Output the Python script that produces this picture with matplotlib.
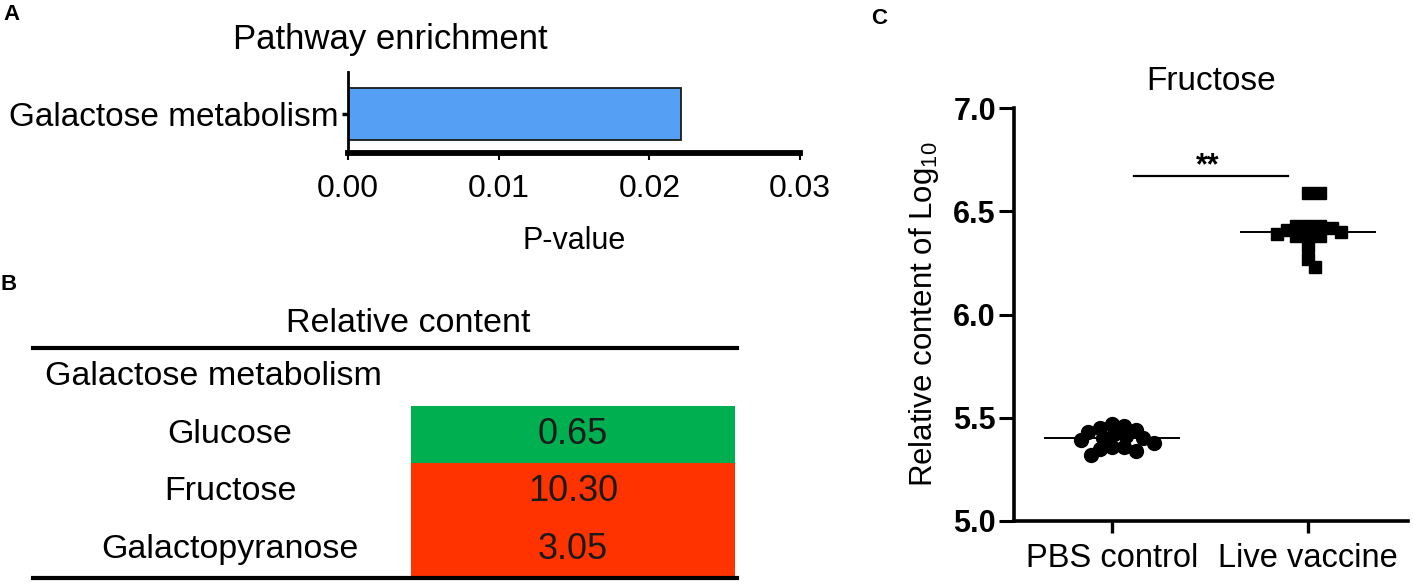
import numpy as np
import matplotlib.pyplot as plt

plt.rcParams['font.family'] = ['Liberation Sans', 'DejaVu Sans']
plt.rcParams['mathtext.fontset'] = 'custom'
plt.rcParams['mathtext.rm'] = 'Liberation Sans'

# ---- data ----
pathway_names = ["Galactose metabolism"]
pathway_pvals = [0.0221]
p_ticks = [0.00, 0.01, 0.02, 0.03]

table_group = "Galactose metabolism"
table_rows = ["Glucose", "Fructose", "Galactopyranose"]
table_vals = [0.65, 10.30, 3.05]

groups = ["PBS control", "Live vaccine"]
pbs_vals = [5.47, 5.46, 5.45, 5.44, 5.43, 5.42, 5.41, 5.40,
            5.40, 5.39, 5.38, 5.36, 5.36, 5.35, 5.34, 5.32]
vac_vals = [6.59, 6.59, 6.43, 6.43, 6.43, 6.42, 6.41, 6.40,
            6.39, 6.38, 6.38, 6.38, 6.33, 6.27, 6.23]
y_ticks = [5.0, 5.5, 6.0, 6.5, 7.0]
sig_label = "**"
sig_y = 6.67

W, H = 1413, 588
fig = plt.figure(figsize=(W / 100, H / 100), dpi=100)


def px_axes(left, top, right, bottom):
    return fig.add_axes([left / W, 1 - bottom / H, (right - left) / W, (bottom - top) / H])


# ---- panel A: pathway enrichment ----
axA = px_axes(348, 72, 800, 153)
axA.barh(range(len(pathway_names)), pathway_pvals, height=0.8,
         color="#55A0F5", edgecolor="#1a1a1a", linewidth=1.3)
axA.set_xlim(0, 0.03)
axA.set_ylim(-0.6, 0.65)
axA.set_xticks(p_ticks)
axA.set_xticklabels([f"{t:.2f}" for t in p_ticks])
axA.set_yticks(range(len(pathway_names)))
axA.set_yticklabels(pathway_names, fontsize=24)
for s in ["top", "right"]:
    axA.spines[s].set_visible(False)
axA.spines["bottom"].set_linewidth(4.2)
axA.spines["left"].set_linewidth(2)
axA.tick_params(axis="x", labelsize=23, length=5, width=1.5, pad=10)
axA.tick_params(axis="y", length=4, width=2.5, pad=3)
axA.set_xlabel("P-value", fontsize=22, labelpad=16)
axA.text(0.093, 1 + 32 / 81, "Pathway enrichment", transform=axA.transAxes,
         ha="center", va="center", fontsize=25)

# ---- panel B: relative content table ----
axB = px_axes(33, 348, 737, 578)
nrow = len(table_rows) + 1
axB.set_xlim(0, 1)
axB.set_ylim(nrow, 0)
cell_colors = ["#00B050" if v < 1 else "#FF3300" for v in table_vals]
rows_y = np.arange(1, nrow) + 0.5
axB.barh(rows_y, [0.46] * len(table_vals), left=0.537, height=1.0,
         color=cell_colors, linewidth=0)
for y, name, v in zip(rows_y, table_rows, table_vals):
    axB.text(0.28, y, name, ha="center", va="center", fontsize=24.5)
    axB.text(0.767, y, f"{v:.2f}", ha="center", va="center", fontsize=26,
             color="#1a1a1a")
axB.text(0.017, 0.5, table_group, ha="left", va="center", fontsize=24.5)
axB.text(0.533, -0.42, "Relative content", ha="center", va="center", fontsize=24.5)
axB.set_xticks([])
axB.set_yticks([])
for s in ["left", "right"]:
    axB.spines[s].set_visible(False)
axB.spines["top"].set_linewidth(3)
axB.spines["bottom"].set_linewidth(3)

# ---- panel C: fructose scatter ----
axC = px_axes(1014, 108, 1408, 521)
axC.set_xlim(-0.5, 1.51)
axC.set_ylim(5.0, 7.0)
xscale = 394 / 2.01
yscale = 413 / 2.0


def swarm(vals, mind=10.5, step=0.012):
    placed = []
    out = []
    for v in vals:
        k = 0
        while True:
            for c in ([0.0] if k == 0 else [k * step, -k * step]):
                if all(((c - px) * xscale) ** 2 + ((v - py) * yscale) ** 2 >= mind ** 2
                       for px, py in placed):
                    placed.append((c, v))
                    out.append(c)
                    break
            else:
                k += 1
                continue
            break
    return np.array(out)


for i, (vals, mk) in enumerate([(pbs_vals, "o"), (vac_vals, "s")]):
    vals = np.array(vals)
    xs = i + swarm(vals, mind=10.5 if mk == "o" else 10.0)
    axC.plot(xs, vals, linestyle="none", marker=mk, markersize=10 if mk == "o" else 9,
             color="black", zorder=3)
    med = np.median(vals)
    axC.plot([i - 0.34, i + 0.34], [med, med], color="black", linewidth=1.4, zorder=4)

axC.plot([0.11, 0.9], [sig_y, sig_y], color="black", linewidth=1.6)
axC.text(0.49, sig_y + 0.01, sig_label, ha="center", va="baseline", fontsize=22,
         fontweight="bold")

axC.set_xticks(range(len(groups)))
axC.set_xticklabels(groups, fontsize=23.5)
axC.set_yticks(y_ticks)
axC.set_yticklabels([f"{t:.1f}" for t in y_ticks], fontsize=22, fontweight="bold")
for s in ["top", "right"]:
    axC.spines[s].set_visible(False)
axC.spines["left"].set_linewidth(2.6)
axC.spines["bottom"].set_linewidth(2.6)
axC.tick_params(axis="x", length=8.5, width=2.4, pad=7)
axC.tick_params(axis="y", length=11, width=2.2, pad=2)
axC.set_ylabel("Relative content of Log$_{10}$", fontsize=22.5, labelpad=9)
axC.set_title("Fructose", fontsize=24, pad=13)

# ---- panel letters ----
for lab, x, y in [("A", 12, 15), ("B", 9, 284), ("C", 879, 18)]:
    fig.text(x / W, 1 - y / H, lab, ha="center", va="center", fontsize=16,
             fontweight="bold")

fig.savefig("out.png", dpi=100)
